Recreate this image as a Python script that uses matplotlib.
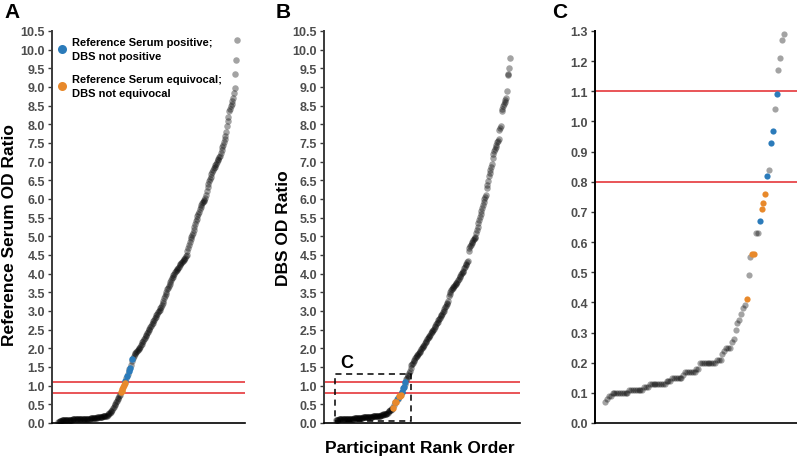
import matplotlib
matplotlib.use('Agg')
import matplotlib.pyplot as plt
from matplotlib.patches import Rectangle
import numpy as np

plt.rcParams['font.family'] = ['Liberation Sans', 'DejaVu Sans']

# ---------------- data (sorted OD ratios, rank order) ----------------
ref_values = [
    0.03, 0.04, 0.05,
    0.06, 0.06, 0.07, 0.07, 0.07, 0.08, 0.08,
    0.08, 0.08, 0.08, 0.09, 0.09, 0.09, 0.09, 0.09, 0.09, 0.10,
    0.10, 0.10, 0.10, 0.10, 0.10, 0.10, 0.10, 0.11, 0.11, 0.11,
    0.11, 0.11, 0.11, 0.11, 0.11, 0.12, 0.12, 0.12, 0.12, 0.12,
    0.12, 0.12, 0.13, 0.13, 0.13, 0.13, 0.13, 0.14, 0.14, 0.14,
    0.14, 0.15, 0.15, 0.15, 0.16, 0.16, 0.17, 0.17, 0.18, 0.18, 0.19, 0.19, 0.20, 0.20,
    0.22, 0.24, 0.26, 0.28, 0.30, 0.33, 0.36, 0.40, 0.43, 0.47, 0.51, 0.55, 0.59, 0.63,
    0.67, 0.71, 0.75,
    0.82, 0.86, 0.91, 0.96, 1.01, 1.06,
    1.13, 1.20, 1.26, 1.32, 1.40, 1.44, 1.47, 1.55, 1.67, 1.72, 1.75, 1.80,
    1.84, 1.87, 1.90, 1.92, 1.95, 1.97, 2.00, 2.04, 2.08, 2.12, 2.16, 2.20,
    2.24, 2.28, 2.32, 2.36, 2.40, 2.44, 2.48, 2.52, 2.56, 2.60, 2.64,
    2.68, 2.72, 2.76, 2.80, 2.84, 2.88, 2.92, 2.96, 3.00, 3.04, 3.08, 3.12, 3.17, 3.22,
    3.28, 3.34, 3.40, 3.46, 3.52, 3.58, 3.62, 3.68, 3.72, 3.78, 3.84, 3.88, 3.92, 3.96,
    4.00, 4.04,
    4.07, 4.10, 4.13, 4.16, 4.19, 4.22, 4.25, 4.28, 4.31, 4.34, 4.37, 4.40, 4.43, 4.46, 4.50,
    4.60, 4.70, 4.78, 4.85, 4.92, 4.98, 5.04, 5.10,
    5.18, 5.26, 5.33, 5.40, 5.47, 5.54, 5.60, 5.66, 5.73,
    5.78, 5.84, 5.88, 5.92, 5.95, 5.98, 6.02,
    6.12, 6.22, 6.32, 6.40, 6.47, 6.54,
    6.60, 6.66, 6.72, 6.77, 6.82, 6.86, 6.90,
    6.95, 7.00, 7.05, 7.08, 7.12, 7.15,
    7.22, 7.30, 7.38, 7.45, 7.52, 7.60,
    7.70, 7.80, 7.95, 8.10, 8.20, 8.35,
    8.40, 8.48, 8.55, 8.62, 8.70, 8.85, 8.98, 9.35, 9.72, 10.25,
]
# ranks (1-based) of highlighted participants in the reference-serum ordering
ref_pos_ranks = [88, 90, 92, 94, 97]          # Ref positive; DBS not positive
ref_eq_ranks = [82, 83, 84, 85, 86, 87]       # Ref equivocal; DBS not equivocal

dbs_values = [
    0.07, 0.08, 0.09, 0.09,
    0.10, 0.10, 0.10, 0.10, 0.10, 0.10, 0.10, 0.10, 0.10,
    0.11, 0.11, 0.11, 0.11, 0.11, 0.11, 0.11, 0.11,
    0.12, 0.12, 0.12,
    0.13, 0.13, 0.13, 0.13, 0.13, 0.13, 0.13, 0.13, 0.13,
    0.14, 0.14, 0.14,
    0.15, 0.15, 0.15, 0.15, 0.15, 0.15,
    0.16,
    0.17, 0.17, 0.17, 0.17, 0.17, 0.17,
    0.18, 0.18,
    0.20, 0.20, 0.20, 0.20, 0.20, 0.20, 0.20, 0.20, 0.20,
    0.21, 0.21, 0.21,
    0.23, 0.24, 0.25, 0.25, 0.25, 0.27, 0.28, 0.31, 0.33, 0.34, 0.36, 0.38, 0.39,
    0.41, 0.49, 0.55, 0.56, 0.56, 0.63, 0.63, 0.67, 0.71, 0.73, 0.76, 0.82, 0.84,
    0.93, 0.97, 1.04, 1.09, 1.17, 1.21, 1.27, 1.29,
    1.33, 1.38,
    1.48, 1.55, 1.58, 1.62, 1.66,
    1.70, 1.73, 1.76, 1.79, 1.82, 1.85, 1.88, 1.91, 1.94, 1.97, 2.00,
    2.03, 2.07, 2.10, 2.14, 2.17, 2.20, 2.24, 2.27, 2.30, 2.34, 2.37, 2.40, 2.44, 2.47, 2.50,
    2.53, 2.57, 2.61, 2.64, 2.68, 2.71, 2.75, 2.78, 2.82, 2.86, 2.89, 2.92, 2.96, 3.00,
    3.05, 3.10, 3.14, 3.18, 3.22, 3.27,
    3.40, 3.46, 3.52, 3.55, 3.58, 3.61, 3.64, 3.67, 3.70, 3.73, 3.76, 3.79, 3.82, 3.86,
    3.90, 3.94, 3.98, 4.02, 4.05, 4.08, 4.14, 4.18, 4.22, 4.26, 4.30, 4.34,
    4.62, 4.68, 4.73, 4.78, 4.82, 4.86, 4.90, 4.93, 4.96, 4.99, 5.08, 5.17, 5.25,
    5.35, 5.45, 5.52, 5.60, 5.68, 5.75, 5.84, 5.92, 6.00, 6.06, 6.12,
    6.30, 6.38, 6.48, 6.62, 6.70, 6.78, 6.85, 6.95, 7.10, 7.20,
    7.28, 7.33, 7.38, 7.45, 7.52, 7.56, 7.60, 7.85, 7.90, 7.96,
    8.35, 8.42, 8.48, 8.55, 8.60, 8.65, 8.70, 8.88, 9.32, 9.35, 9.50, 9.78,
]
# ranks (1-based) of the same highlighted participants in the DBS ordering
dbs_pos_ranks = [84, 88, 90, 91, 93]
dbs_eq_ranks = [77, 80, 81, 85, 86, 87]

cutoffs = [0.8, 1.1]
yticks_main = [i * 0.5 for i in range(22)]
yticks_zoom = [i * 0.1 for i in range(14)]
zoom_max_value = 1.3
legend_labels = ['Reference Serum positive;\nDBS not positive',
                 'Reference Serum equivocal;\nDBS not equivocal']

BLUE = '#2b7bba'
ORANGE = '#e8892b'
RED = '#e3262a'
TICKC = '#4d4d4d'

W, H = 797, 460
fig = plt.figure(figsize=(W / 100, H / 100), dpi=100)


def ax_px(l, r, t, b):
    return fig.add_axes([l / W, 1 - b / H, (r - l) / W, (b - t) / H])


def style(ax, ticks, fmt):
    for s in ['top', 'right']:
        ax.spines[s].set_visible(False)
    ax.spines['left'].set_color('#3a3a3a')
    ax.spines['left'].set_linewidth(1.4)
    ax.spines['bottom'].set_color('black')
    ax.spines['bottom'].set_linewidth(1.2)
    ax.set_xticks([])
    ax.set_yticks(ticks)
    ax.set_yticklabels([fmt.format(t) for t in ticks], fontsize=9,
                       fontweight='bold', color=TICKC)
    ax.tick_params(axis='y', length=3, width=1, color='#3a3a3a', pad=2)


def draw_points(ax, values, pos_ranks, eq_ranks, s, subset=None):
    vals = np.array(values)
    ranks = np.arange(1, len(vals) + 1)
    pos = np.isin(ranks, pos_ranks)
    eq = np.isin(ranks, eq_ranks)
    keep = np.ones(len(vals), bool) if subset is None else subset(vals)
    gray = keep & ~pos & ~eq
    ax.scatter(ranks[gray], vals[gray], s=s, color='black', alpha=0.36,
               linewidths=0, zorder=2)
    ax.scatter(ranks[pos & keep], vals[pos & keep], s=s, color=BLUE,
               linewidths=0, zorder=3)
    ax.scatter(ranks[eq & keep], vals[eq & keep], s=s, color=ORANGE,
               linewidths=0, zorder=3)


N = len(ref_values)

# Panel A
axA = ax_px(52, 245, 32, 424)
draw_points(axA, ref_values, ref_pos_ranks, ref_eq_ranks, 22)
for c in cutoffs:
    axA.axhline(c, color=RED, lw=1.1, zorder=1)
axA.set_xlim(-6.7, N + 10.3)
axA.set_ylim(0, 10.5)
style(axA, yticks_main, '{:.1f}')
# legend drawn as markers + two-line labels
for (ym, col, lab) in [(50, BLUE, legend_labels[0]), (87, ORANGE, legend_labels[1])]:
    fig.lines.append(plt.Line2D([62 / W], [1 - ym / H], ls='none', marker='o',
                                ms=6.5, mfc=col, mec='none',
                                transform=fig.transFigure, figure=fig))
    fig.text(72 / W, 1 - ym / H, lab, ha='left', va='center', fontsize=8,
             fontweight='bold', linespacing=1.55)

# Panel B
axB = ax_px(324, 520, 32, 424)
draw_points(axB, dbs_values, dbs_pos_ranks, dbs_eq_ranks, 22)
for c in cutoffs:
    axB.axhline(c, color=RED, lw=1.1, zorder=1)
axB.set_xlim(-14.9, N + 13.3)
axB.set_ylim(0, 10.5)
style(axB, yticks_main, '{:.1f}')
n_zoom = sum(v <= zoom_max_value for v in dbs_values)
axB.add_patch(Rectangle((-0.3, 0.05), n_zoom + 4, zoom_max_value - 0.04,
                        fill=False, ls=(0, (4, 3)), lw=1.1, ec='black', zorder=4))
axB.text(6.3, 1.38, 'C', fontsize=13, fontweight='bold', ha='left', va='bottom')

# Panel C
axC = ax_px(595, 797, 32, 424)
draw_points(axC, dbs_values, dbs_pos_ranks, dbs_eq_ranks, 20,
            subset=lambda v: v <= zoom_max_value)
for c in cutoffs:
    axC.axhline(c, color=RED, lw=1.1, zorder=1)
axC.set_xlim(-4.4, n_zoom + 7)
axC.set_ylim(0, 1.3)
style(axC, yticks_zoom, '{:.1f}')
axC.spines['left'].set_color('black')

# Labels
fig.text(10 / W, 1 - 235 / H, 'Reference Serum OD Ratio', rotation=90,
         ha='center', va='center', fontsize=12.5, fontweight='bold')
fig.text(284 / W, 1 - 228 / H, 'DBS OD Ratio', rotation=90,
         ha='center', va='center', fontsize=12.5, fontweight='bold')
fig.text(420 / W, 1 - 449 / H, 'Participant Rank Order',
         ha='center', va='center', fontsize=12.5, fontweight='bold')
for x, lab in [(4, 'A'), (276, 'B'), (552, 'C')]:
    fig.text(x / W, 1 - 3 / H, lab, ha='left', va='top', fontsize=15,
             fontweight='bold')

fig.savefig('out.png', dpi=100)
